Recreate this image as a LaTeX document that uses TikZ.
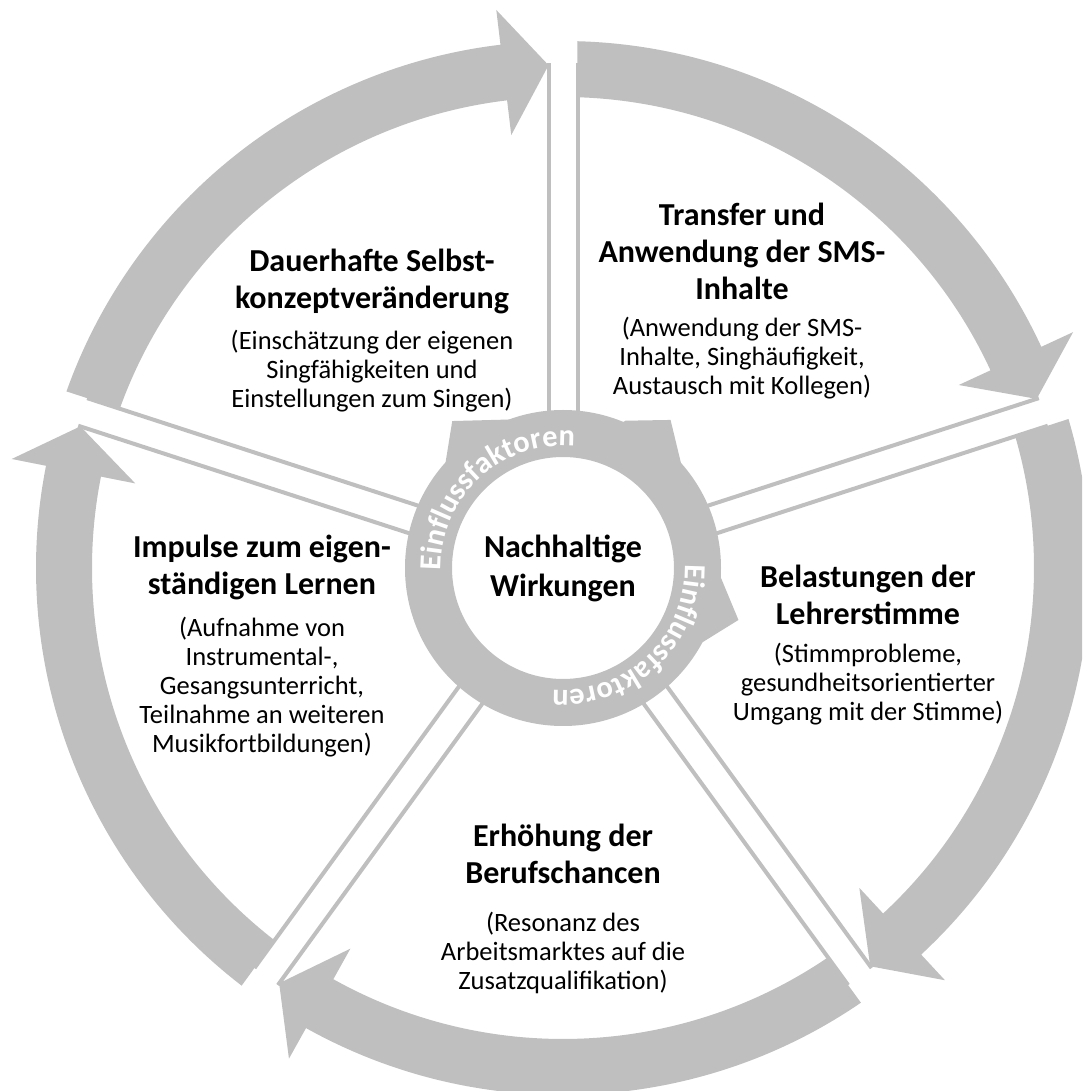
\documentclass[tikz,border=0pt]{standalone}
\usepackage{fontspec}
\setmainfont{Carlito}
\usetikzlibrary{positioning,decorations.text}
\definecolor{cyclegray}{HTML}{BFBFBF}
\tikzset{
	% big text in the sectors
	title/.style={
		align=center,
		inner sep=0pt,
		anchor=north,
		font=\fontsize{32}{37}\selectfont\bfseries
	},
	% explanation below a title
	info/.style={
		align=center,
		inner sep=0pt,
		anchor=north,
		font=\fontsize{26.5}{29}\selectfont
	},
	% double line between the sectors
	sepline/.style={
		draw=cyclegray,
		line width=4pt
	},
	% text on the inner ring
	ringtext/.style={
		decorate,
		decoration={text along path, text align=left, text color=white,
			text={|\fontsize{30.5}{30.5}\selectfont\bfseries|Einflussfaktoren}}
	},
	% one sector boundary
	separator/.pic={
		\draw[sepline] (150,14.5) -- (505,14.5);
		\draw[sepline] (150,-14.5) -- (505,-14.5);
	},
	% arrow of the big cycle, from 0 to -72 degrees
	cyclearrow/.pic={
		\fill[cyclegray] (-1.577:527) arc[start angle=-1.577, end angle=-65.185, radius=527]
			-- (-65.185:562) -- (-70.355:503) -- (-65.185:436) -- (-65.185:471)
			arc[start angle=-65.185, end angle=-1.764, radius=471] -- cycle;
	}
}
\begin{document}
\begin{tikzpicture}[x=1pt, y=1pt]
	\useasboundingbox (-563,-523) rectangle (519,568);
	\clip (-563,-523) rectangle (519,568);

	\pic[rotate=90] {separator};
	\pic[rotate=18] {separator};
	\pic[rotate=-54] {separator};
	\pic[rotate=-126] {separator};
	\pic[rotate=162] {separator};

	\pic[rotate=162] {cyclearrow};
	\pic[rotate=90] {cyclearrow};
	\pic[rotate=18] {cyclearrow};
	\pic[rotate=-54] {cyclearrow};
	\pic[rotate=-126] {cyclearrow};

	% inner ring
	\fill[cyclegray, even odd rule] (0,0) circle[radius=158] (0,0) circle[radius=111];
	\fill[cyclegray] (140:150) -- (138:158) -- (127:184) -- (110:158) -- (108:150) -- cycle;
	\fill[cyclegray] (70:150) -- (67:160) -- (54:183) -- (38:153) -- (36:150) -- cycle;
	\fill[cyclegray] (1:150) -- (-2.6:157) -- (-16.5:183) -- (-30:155) -- (-32:150) -- cycle;
	\path[ringtext] (181:122) arc[start angle=181, end angle=60, radius=122];
	\path[ringtext] (1.5:122) arc[start angle=1.5, end angle=-120, radius=122];

	\node[title, font=\fontsize{32}{39}\selectfont\bfseries] (wirkung) at (0,33) {Nachhaltige\\Wirkungen};

	\node[title] (selbst) at (-191,319) {Dauerhafte Selbst-\\konzeptveränderung};
	\node[info] (selbstinfo) at (-191,238)
		{(Einschätzung der eigenen\\Singfähigkeiten und\\Einstellungen zum Singen)};

	\node[title] (transfer) at (179,365) {Transfer und\\Anwendung der SMS-\\Inhalte};
	\node[info] (transferinfo) at (179,251)
		{(Anwendung der SMS-\\Inhalte, Singhäufigkeit,\\Austausch mit Kollegen)};

	\node[title] (stimme) at (305,3) {Belastungen der\\Lehrerstimme};
	\node[info] (stimmeinfo) at (305,-75)
		{(Stimmprobleme,\\gesundheitsorientierter\\Umgang mit der Stimme)};

	\node[title] (beruf) at (0,-256) {Erhöhung der\\Berufschancen};
	\node[info] (berufinfo) at (0,-344)
		{(Resonanz des\\Arbeitsmarktes auf die\\Zusatzqualifikation)};

	\node[title] (impulse) at (-301,33) {Impulse zum eigen-\\ständigen Lernen};
	\node[info] (impulseinfo) at (-301,-49)
		{(Aufnahme von\\Instrumental-,\\Gesangsunterricht,\\Teilnahme an weiteren\\Musikfortbildungen)};
\end{tikzpicture}
\end{document}
